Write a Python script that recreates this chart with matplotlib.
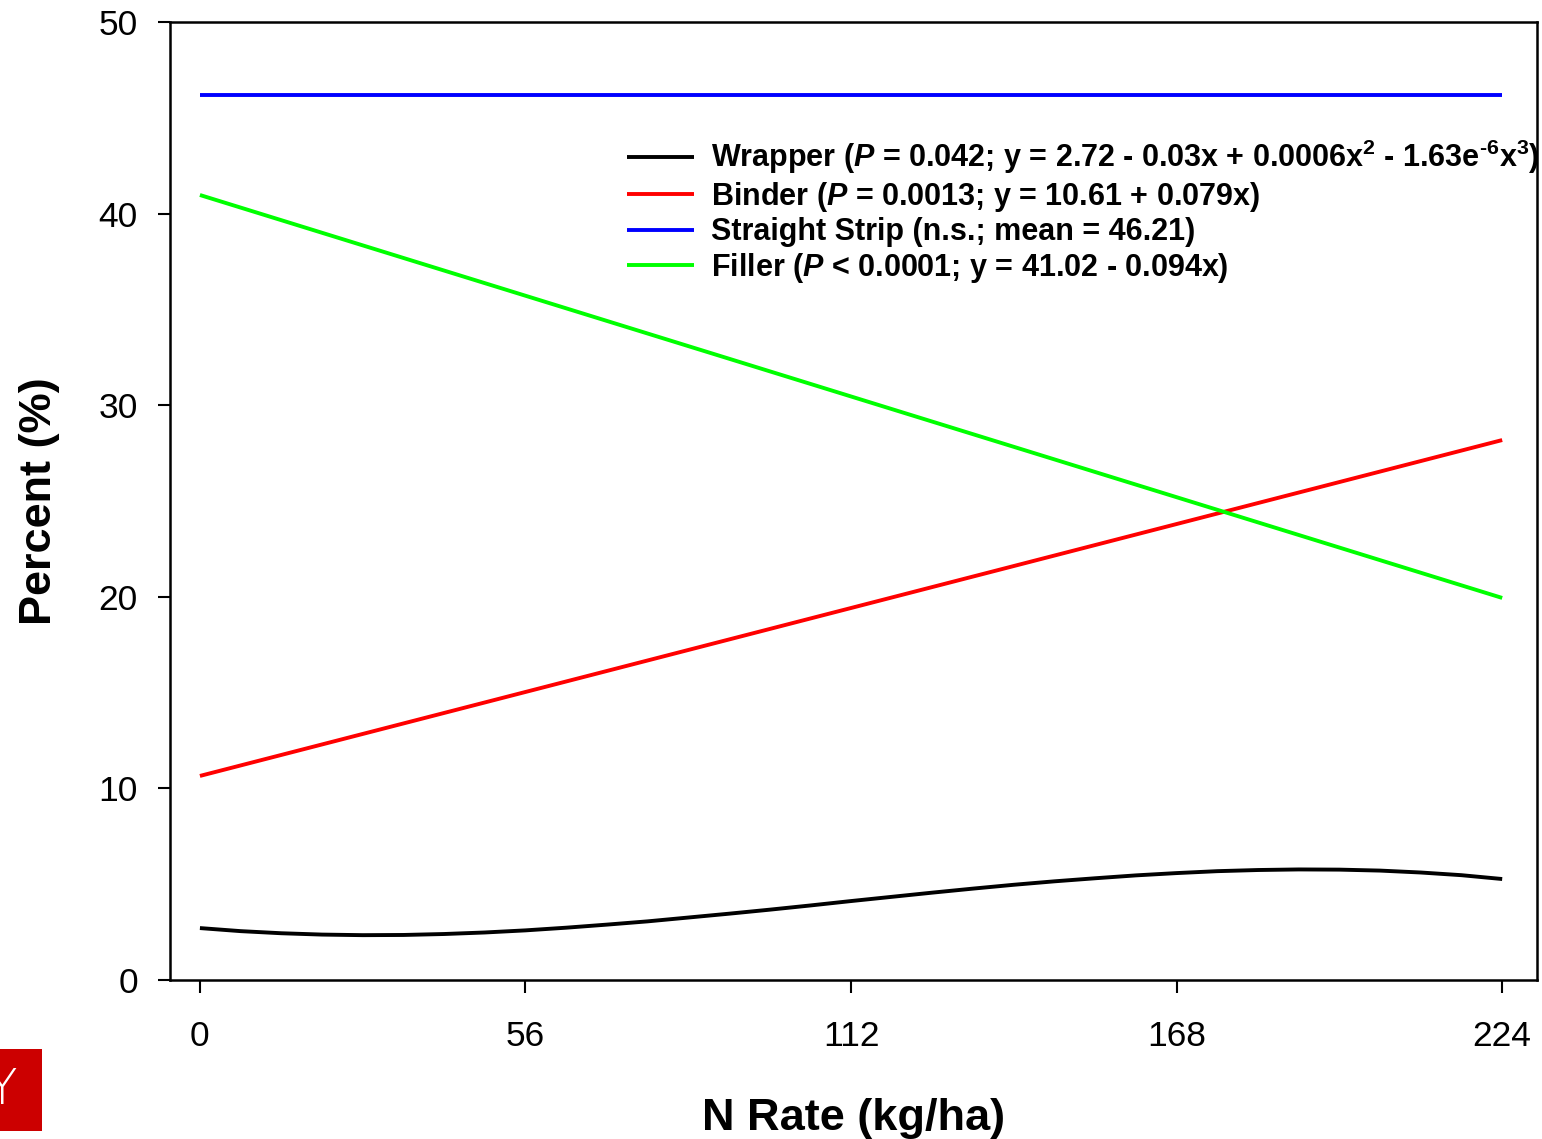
import matplotlib
matplotlib.use("Agg")
import matplotlib.pyplot as plt
from matplotlib.patches import Rectangle

plt.rcParams['font.family'] = ['Liberation Sans', 'DejaVu Sans']
plt.rcParams['mathtext.fontset'] = 'custom'
plt.rcParams['mathtext.rm'] = 'Liberation Sans:bold'
plt.rcParams['mathtext.it'] = 'Liberation Sans:bold:italic'
plt.rcParams['mathtext.bf'] = 'Liberation Sans:bold'

# values
n_rate_lin = [0, 224]
binder = [10.65, 28.18]
strip = [46.2, 46.2]
filler = [40.97, 19.94]

n_rate_wrap = [0, 7, 14, 21, 28, 35, 42, 49, 56, 63, 70, 77, 84, 91, 98, 105, 112,
               119, 126, 133, 140, 147, 154, 161, 168, 175, 182, 189, 196, 203, 210, 217, 224]
wrapper = [2.71, 2.55, 2.44, 2.37, 2.34, 2.35, 2.40, 2.48, 2.59, 2.73, 2.89, 3.06, 3.26,
           3.46, 3.67, 3.89, 4.12, 4.34, 4.56, 4.77, 4.97, 5.15, 5.31, 5.46, 5.58, 5.68,
           5.74, 5.77, 5.76, 5.71, 5.61, 5.47, 5.27]

x_ticks = [0, 56, 112, 168, 224]
y_ticks = [0, 10, 20, 30, 40, 50]

lbl_wrap = r'Wrapper ($\mathit{P}$ = 0.042; y = 2.72 - 0.03x + 0.0006x$^{2}$ - 1.63e$^{\text{-6}}$x$^{3}$)'
lbl_bind = r'Binder ($\mathit{P}$ = 0.0013; y = 10.61 + 0.079x)'
lbl_strip = 'Straight Strip (n.s.; mean = 46.21)'
lbl_fill = r'Filler ($\mathit{P}$ < 0.0001; y = 41.02 - 0.094x)'

fig = plt.figure(figsize=(15.42, 11.39), dpi=100)
ax = fig.add_axes([0.1102, 0.1396, 0.8866, 0.8411])

lw = 2.8
ax.plot(n_rate_wrap, wrapper, color='black', lw=lw, label=lbl_wrap, solid_capstyle='butt')
ax.plot(n_rate_lin, binder, color='#ff0000', lw=lw, label=lbl_bind, solid_capstyle='butt')
ax.plot(n_rate_lin, strip, color='#0000ff', lw=lw, label=lbl_strip, solid_capstyle='butt')
ax.plot(n_rate_lin, filler, color='#00ff00', lw=lw, label=lbl_fill, solid_capstyle='butt')

ax.set_xlim(-5.16, 230.0)
ax.set_ylim(0, 50)
ax.set_xticks(x_ticks)
ax.set_yticks(y_ticks)
ax.tick_params(direction='out', length=9, width=1.5, labelsize=25.5, top=False, right=False)
ax.tick_params(axis='x', pad=20)
ax.tick_params(axis='y', pad=14)
for s in ax.spines.values():
    s.set_linewidth(1.8)

ax.set_xlabel('N Rate (kg/ha)', fontsize=32.5, fontweight='bold', labelpad=32)
ax.set_ylabel('Percent (%)', fontsize=32.5, fontweight='bold', labelpad=28)

leg = ax.legend(loc='upper left', bbox_to_anchor=(627 / 1542, 1 - 138 / 1139),
                bbox_transform=fig.transFigure, frameon=False, fontsize=22,
                handlelength=2.2, handletextpad=0.55, labelspacing=0.115, borderpad=0,
                borderaxespad=0)
for t in leg.get_texts():
    t.set_fontweight('bold')

# cropped red logo at bottom-left
fig.patches.append(Rectangle((0, 1 - 1131 / 1139), 42 / 1542, 82 / 1139,
                             transform=fig.transFigure, facecolor='#cc0000',
                             edgecolor='none'))
fig.text(2 / 1542, 1 - 1090 / 1139, 'Y', color='white', fontsize=36,
         family='DejaVu Sans', ha='center', va='center', fontweight='light')

fig.savefig('out.png', dpi=100)
